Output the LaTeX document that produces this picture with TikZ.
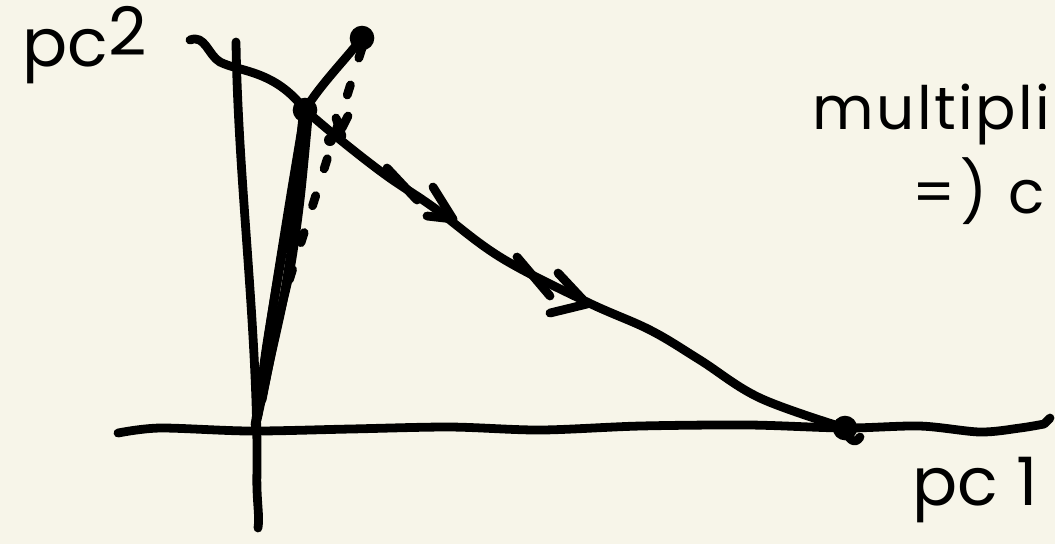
\documentclass[tikz,border=0pt]{standalone}
\usepackage{fontspec}
\setmainfont{Poppins}
\usetikzlibrary{arrows.meta, positioning}
\definecolor{paper}{RGB}{247,245,233}

\begin{document}
\begin{tikzpicture}[x=0.01cm, y=-0.01cm, font=\fontsize{19}{22}\selectfont,
    ink/.style={line width=2.5pt, line cap=round, line join=round},
    dot/.style={circle, fill, inner sep=0pt, minimum size=7pt},
    hand/.style={inner sep=0pt, anchor=base west}]
    \fill[paper] (0,0) rectangle (1055,544);
    \useasboundingbox (0,0) rectangle (1055,544);

    \coordinate (top) at (236,42);
    \coordinate (bot) at (258,528);
    \coordinate (xl) at (118,433);
    \coordinate (xr) at (1044,424);
    \node[dot] (p) at (305,110) {};
    \node[dot] (q) at (362,38) {};
    \node[dot] (r) at (845,428) {};

    \node[hand] (pc2) at (22,66) {pc\raisebox{3pt}{2}};
    \node[hand] (pc1) at (912,505) {pc 1};
    \node[hand, font=\fontsize{17}{20}\selectfont\addfontfeatures{LetterSpace=4}] (mult) at (812,129) {multipli};
    \node[hand, font=\fontsize{17}{20}\selectfont\addfontfeatures{LetterSpace=8}] (impl) at (912,213) {=) c};

    \draw[ink] (top) .. controls (238,180) and (258,330) .. (257,470) .. controls (256,500) and (260,515) .. (bot);
    \draw[ink] plot[smooth] coordinates {(xl) (160,428) (250,431) (350,429) (450,427) (540,430) (640,426) (750,425) (845,428) (920,426) (980,432) (1020,428) (xr)} -- (1050,418);

    \draw[ink] (190,40) .. controls (205,34) and (208,55) .. (220,62) .. controls (240,72) and (275,70) .. (p.center);
    \draw[ink] plot[smooth, tension=0.6] coordinates {(p.center) (343,142) (387,176) (433,207) (500,257) (587,302) (650,330) (700,360) (760,398) (r.center)};
    \draw[ink] (p.center) .. controls (320,85) and (345,60) .. (q.center);
    \draw[ink, dash pattern=on 3pt off 8pt] (q.center) ++(0,10) -- (283,300);

    \draw[ink] plot[smooth] coordinates {(p.center) (290,200) (274,300) (262,380) (255,425)};
    \draw[ink] plot[smooth] coordinates {(308,118) (300,200) (290,270) (276,330) (262,400)};
    \draw[ink] plot[smooth] coordinates {(303,115) (296,180) (281,260) (266,350) (258,415)};
    \draw[ink] plot[smooth] coordinates {(306,112) (298,200) (285,290) (270,360) (257,420)};

    \draw[ink] (336,118) -- (342,136) (348,116) -- (342,128);
    \fill (330,140) circle (6);
    \draw[ink] (387,168) -- (417,200);
    \draw[ink] (433,187) -- (453,219) -- (427,216);
    \draw[ink] (517,257) -- (550,296);
    \draw[ink] (558,273) -- (587,304) -- (550,313);
    \draw[ink] (r.center) .. controls (848,440) and (855,445) .. (860,437);
\end{tikzpicture}
\end{document}
